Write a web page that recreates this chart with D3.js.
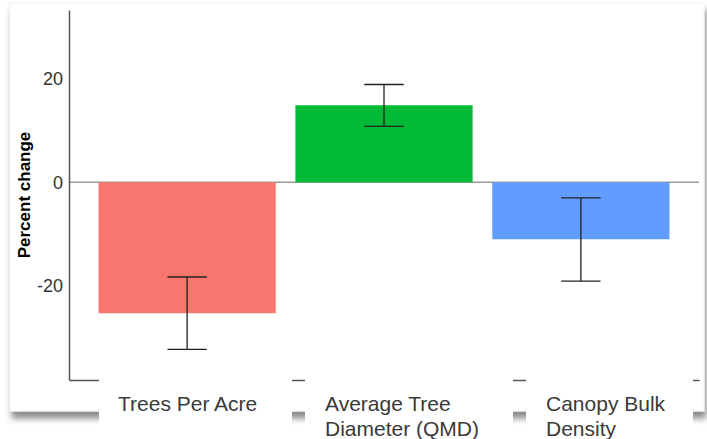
<!DOCTYPE html>
<html>
<head>
<meta charset="utf-8">
<script src="https://cdn.jsdelivr.net/npm/d3@7/dist/d3.min.js"></script>
<style>
  html, body { margin: 0; padding: 0; background: #fff; }
  svg { display: block; }
</style>
</head>
<body>
<svg id="chart" width="707" height="439"></svg>
<script>
// Percent change by stand metric, with 95% interval
const categories = ["Trees Per Acre", "Average Tree Diameter (QMD)", "Canopy Bulk Density"];
const labelLines = [["Trees Per Acre"], ["Average Tree", "Diameter (QMD)"], ["Canopy Bulk", "Density"]];
const values = [-25.3, 14.9, -11.0];
const lower = [-32.3, 10.8, -19.1];
const upper = [-18.3, 18.9, -3.0];
const colors = ["#F8766D", "#00BA38", "#619CFF"];
const yTicks = [-20, 0, 20];
const yLabel = "Percent change";

const svg = d3.select("#chart");
const W = 707, H = 439;
const plot = { left: 69, right: 699, top: 10, bottom: 380 };

// card with soft drop shadow
const defs = svg.append("defs");
const f = defs.append("filter").attr("id", "shadow")
  .attr("x", "-5%").attr("y", "-5%").attr("width", "112%").attr("height", "115%");
f.append("feDropShadow").attr("dx", 2).attr("dy", 7).attr("stdDeviation", 3)
  .attr("flood-color", "#000").attr("flood-opacity", 0.45);

svg.append("rect")
  .attr("x", 10).attr("y", 3).attr("width", 694).attr("height", 408)
  .attr("fill", "#fff").attr("stroke", "#f2f2f2").attr("stroke-width", 1)
  .attr("filter", "url(#shadow)");

const x = d3.scaleBand()
  .domain(categories)
  .range([plot.left, plot.right])
  .paddingInner(0.1)
  .paddingOuter(0.15);

const y = d3.scaleLinear()
  .domain([-38.2, 33.3])
  .range([plot.bottom, plot.top]);

// zero reference line
svg.append("line")
  .attr("x1", plot.left).attr("x2", plot.right)
  .attr("y1", y(0)).attr("y2", y(0))
  .attr("stroke", "#9a9a9a").attr("stroke-width", 1.5);

// bars
svg.append("g").selectAll("rect")
  .data(categories)
  .join("rect")
  .attr("x", d => x(d))
  .attr("width", x.bandwidth())
  .attr("y", (d, i) => y(Math.max(0, values[i])))
  .attr("height", (d, i) => Math.abs(y(values[i]) - y(0)))
  .attr("fill", (d, i) => colors[i]);

// error bars
const capW = x.step() * 0.2;
const eb = svg.append("g").attr("stroke", "#222").attr("stroke-width", 1.3).attr("fill", "none");
categories.forEach((c, i) => {
  const cx = x(c) + x.bandwidth() / 2;
  eb.append("line").attr("x1", cx).attr("x2", cx).attr("y1", y(upper[i])).attr("y2", y(lower[i]));
  eb.append("line").attr("x1", cx - capW / 2).attr("x2", cx + capW / 2).attr("y1", y(upper[i])).attr("y2", y(upper[i]));
  eb.append("line").attr("x1", cx - capW / 2).attr("x2", cx + capW / 2).attr("y1", y(lower[i])).attr("y2", y(lower[i]));
});

// axes
const yAxis = svg.append("g")
  .attr("transform", `translate(${plot.left},0)`)
  .call(d3.axisLeft(y).tickValues(yTicks).tickFormat(d => String(d))
    .tickSize(0).tickPadding(6).tickSizeOuter(0));
yAxis.select(".domain").attr("stroke", "#555").attr("stroke-width", 1.5);
yAxis.selectAll("text")
  .attr("font-family", "Liberation Sans, Arial, sans-serif")
  .attr("font-size", 18).attr("fill", "#333");

const xAxis = svg.append("g")
  .attr("transform", `translate(0,${plot.bottom})`)
  .call(d3.axisBottom(x).tickSize(0).tickFormat("").tickSizeOuter(0));
xAxis.select(".domain").attr("stroke", "#555").attr("stroke-width", 1.5);

// y title
svg.append("text")
  .attr("transform", `translate(30,${(plot.top + plot.bottom) / 2}) rotate(-90)`)
  .attr("text-anchor", "middle")
  .attr("font-family", "Liberation Sans, Arial, sans-serif")
  .attr("font-weight", "bold").attr("font-size", 17).attr("fill", "#000")
  .text(yLabel);

// category label boxes
const boxes = [[99, 292], [305, 513], [526, 693]];
const textX = [118, 325, 546];
const lab = svg.append("g");
categories.forEach((c, i) => {
  lab.append("rect")
    .attr("x", boxes[i][0]).attr("y", 379)
    .attr("width", boxes[i][1] - boxes[i][0]).attr("height", H - 379)
    .attr("fill", "#fff");
  const t = lab.append("text")
    .attr("font-family", "Liberation Sans, Arial, sans-serif")
    .attr("font-size", 21).attr("fill", "#3a3a3a");
  labelLines[i].forEach((line, k) => {
    t.append("tspan").attr("x", textX[i]).attr("y", 411 + k * 25).text(line);
  });
});
</script>
</body>
</html>
